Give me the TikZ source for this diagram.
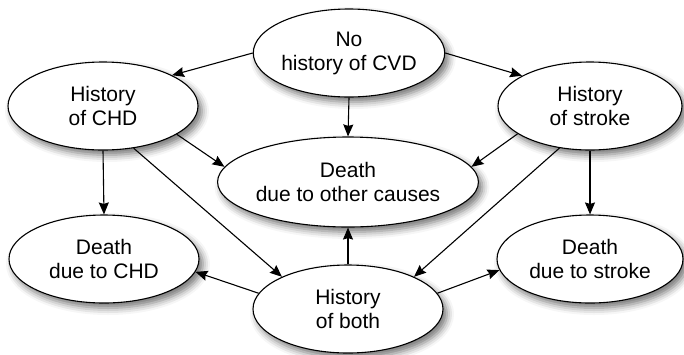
\documentclass[tikz,border=0pt]{standalone}
\usepackage{fontspec}
\setmainfont{Liberation Sans}
\usepackage{tikz}
\usetikzlibrary{shapes.geometric,arrows.meta,shadows.blur}

\begin{document}
\begin{tikzpicture}[
  x=1pt,y=-1pt,
  ev/.style={draw,ellipse,line width=1.1pt,fill=white,inner sep=0pt,align=center,
    minimum width=190pt,minimum height=88pt,
    font=\fontsize{21}{24}\selectfont,
    blur shadow={shadow xshift=4pt,shadow yshift=-5pt,shadow blur radius=7pt,shadow opacity=55}},
  wide/.style={ev,minimum width=240pt,minimum height=90pt},
  arr/.style={-{Stealth[length=12pt,width=10pt,inset=1.5pt]},line width=1.1pt}
]
\useasboundingbox (0,0) rectangle (684,354);
\node[ev] (nocvd) at (349,53) {No\\history of CVD};
\node[ev] (chd) at (103,106) {History\\of CHD};
\node[ev,minimum width=184pt] (stroke) at (590,106) {History\\of stroke};
\node[wide] (other) at (348,182) {Death\\due to other causes};
\node[ev] (dchd) at (104,259) {Death\\due to CHD};
\node[ev,minimum width=186pt] (dstroke) at (590,259) {Death\\due to stroke};
\node[ev] (both) at (348,309) {History\\of both};

\draw[arr] (nocvd.180) -- (chd.24);
\draw[arr] (nocvd.0) -- (stroke.156);
\draw[arr] (nocvd.south) -- (other.north);
\draw[arr] (chd.-21) -- (other.173);
\draw[arr] (stroke.-159) -- (other.7);
\draw[arr] (chd.south) -- (dchd.north);
\draw[arr] (stroke.south) -- (dstroke.north);
\draw[arr] (chd.-54) -- (both.154);
\draw[arr] (stroke.-126) -- (both.26);
\draw[arr] (both.north) -- (other.south);
\draw[arr] (both.170) -- (dchd.-8);
\draw[arr] (both.10) -- (dstroke.187);
\end{tikzpicture}
\end{document}
